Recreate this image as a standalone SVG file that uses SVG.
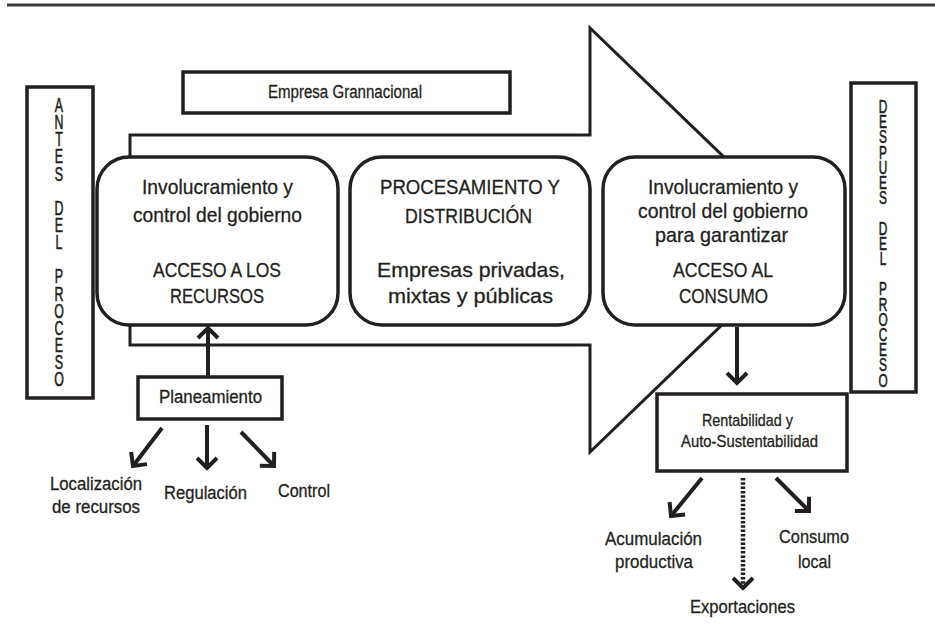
<svg xmlns="http://www.w3.org/2000/svg" width="935" height="636" viewBox="0 0 935 636">
<defs>
<style>
.bx{fill:#fff;stroke:#231f20;stroke-width:3.5}
.rb{fill:#fff;stroke:#231f20;stroke-width:3.5}
.t{font-family:"Liberation Sans",Arial,sans-serif;fill:#231f20;stroke:#231f20;stroke-width:0.3;text-anchor:middle}
.v{font-family:"Liberation Sans",Arial,sans-serif;fill:#231f20;stroke:#231f20;stroke-width:0.6;text-anchor:middle;font-size:20px}
.v2{font-family:"Liberation Sans",Arial,sans-serif;fill:#231f20;stroke:#231f20;stroke-width:0.6;text-anchor:middle;font-size:18.5px}
.c{fill:none;stroke:#231f20;stroke-width:4;marker-end:url(#ah)}
.d{fill:none;stroke:#231f20;stroke-width:4.5;stroke-dasharray:2.5 1.8;marker-end:url(#ah)}
</style>
<marker id="ah" markerUnits="userSpaceOnUse" markerWidth="30" markerHeight="30" viewBox="-15 -15 30 30" refX="0" refY="0" orient="auto" overflow="visible">
<path d="M-10,-10 L0,0 L-10,10" fill="none" stroke="#231f20" stroke-width="4" stroke-linejoin="miter"/>
</marker>
</defs>
<rect width="935" height="636" fill="#fff"/>
<line x1="7" y1="5" x2="935" y2="5" stroke="#3c3c3c" stroke-width="3"/>

<g id="big-arrow">
<polygon points="130,135 590,135 590,28 810,240 590,452 590,345 130,345" fill="#fff" stroke="#231f20" stroke-width="3"/>
</g>

<g id="empresa">
<rect class="bx" x="183" y="72" width="327" height="41"/>
<text class="t" x="345" y="98" font-size="18" textLength="154" lengthAdjust="spacingAndGlyphs">Empresa Grannacional</text>
</g>

<g id="antes">
<rect class="bx" x="27" y="87" width="66" height="311"/>
<g transform="translate(59,0) scale(0.62,1)">
<text class="v" x="0" y="112">A</text>
<text class="v" x="0" y="129.15">N</text>
<text class="v" x="0" y="146.3">T</text>
<text class="v" x="0" y="163.45">E</text>
<text class="v" x="0" y="180.6">S</text>
<text class="v" x="0" y="214.9">D</text>
<text class="v" x="0" y="232.05">E</text>
<text class="v" x="0" y="249.2">L</text>
<text class="v" x="0" y="283.5">P</text>
<text class="v" x="0" y="300.65">R</text>
<text class="v" x="0" y="317.8">O</text>
<text class="v" x="0" y="334.95">C</text>
<text class="v" x="0" y="352.1">E</text>
<text class="v" x="0" y="369.25">S</text>
<text class="v" x="0" y="386.4">O</text>
</g>
</g>

<g id="despues">
<rect class="bx" x="851" y="83" width="65" height="309"/>
<g transform="translate(883,0) scale(0.64,1)">
<text class="v2" x="0" y="113">D</text>
<text class="v2" x="0" y="128.2">E</text>
<text class="v2" x="0" y="143.4">S</text>
<text class="v2" x="0" y="158.6">P</text>
<text class="v2" x="0" y="173.8">U</text>
<text class="v2" x="0" y="189">E</text>
<text class="v2" x="0" y="204.2">S</text>
<text class="v2" x="0" y="234.6">D</text>
<text class="v2" x="0" y="249.8">E</text>
<text class="v2" x="0" y="265">L</text>
<text class="v2" x="0" y="295.4">P</text>
<text class="v2" x="0" y="310.6">R</text>
<text class="v2" x="0" y="325.8">O</text>
<text class="v2" x="0" y="341">C</text>
<text class="v2" x="0" y="356.2">E</text>
<text class="v2" x="0" y="371.4">S</text>
<text class="v2" x="0" y="386.6">O</text>
</g>
</g>

<g id="acceso-recursos">
<rect class="rb" x="97" y="157" width="241" height="168" rx="32" ry="32"/>
<text class="t" x="217.5" y="194" font-size="21" textLength="151" lengthAdjust="spacingAndGlyphs">Involucramiento y</text>
<text class="t" x="217.5" y="222" font-size="21" textLength="169" lengthAdjust="spacingAndGlyphs">control del gobierno</text>
<text class="t" x="217" y="277" font-size="21" textLength="128" lengthAdjust="spacingAndGlyphs">ACCESO A LOS</text>
<text class="t" x="217" y="303" font-size="21" textLength="94" lengthAdjust="spacingAndGlyphs">RECURSOS</text>
</g>

<g id="procesamiento">
<rect class="rb" x="350" y="157" width="240" height="168" rx="32" ry="32"/>
<text class="t" x="470" y="194" font-size="20" textLength="180" lengthAdjust="spacingAndGlyphs">PROCESAMIENTO Y</text>
<text class="t" x="468.5" y="223" font-size="20" textLength="127" lengthAdjust="spacingAndGlyphs">DISTRIBUCIÓN</text>
<text class="t" x="471" y="277" font-size="21" textLength="188" lengthAdjust="spacingAndGlyphs">Empresas privadas,</text>
<text class="t" x="470.5" y="303" font-size="21" textLength="165" lengthAdjust="spacingAndGlyphs">mixtas y públicas</text>
</g>

<g id="acceso-consumo">
<rect class="rb" x="603" y="157" width="242" height="168" rx="32" ry="32"/>
<text class="t" x="723" y="194" font-size="21" textLength="150" lengthAdjust="spacingAndGlyphs">Involucramiento y</text>
<text class="t" x="723" y="218" font-size="21" textLength="170" lengthAdjust="spacingAndGlyphs">control del gobierno</text>
<text class="t" x="721.5" y="242" font-size="21" textLength="133" lengthAdjust="spacingAndGlyphs">para garantizar</text>
<text class="t" x="723" y="277" font-size="21" textLength="100" lengthAdjust="spacingAndGlyphs">ACCESO AL</text>
<text class="t" x="723.5" y="303" font-size="21" textLength="89" lengthAdjust="spacingAndGlyphs">CONSUMO</text>
</g>

<g id="planeamiento">
<rect class="bx" x="138" y="377" width="144" height="42"/>
<text class="t" x="210.5" y="403" font-size="18" textLength="103" lengthAdjust="spacingAndGlyphs">Planeamiento</text>
</g>

<g id="rentabilidad">
<rect class="bx" x="657" y="394" width="190" height="77"/>
<text class="t" x="747.5" y="426" font-size="17" textLength="91" lengthAdjust="spacingAndGlyphs">Rentabilidad y</text>
<text class="t" x="749.5" y="447" font-size="17" textLength="137" lengthAdjust="spacingAndGlyphs">Auto-Sustentabilidad</text>
</g>

<g id="localizacion">
<text class="t" x="96" y="490" font-size="18" textLength="92" lengthAdjust="spacingAndGlyphs">Localización</text>
<text class="t" x="96" y="513" font-size="18" textLength="88" lengthAdjust="spacingAndGlyphs">de recursos</text>
</g>
<g id="regulacion">
<text class="t" x="205.5" y="499" font-size="18" textLength="83" lengthAdjust="spacingAndGlyphs">Regulación</text>
</g>
<g id="control">
<text class="t" x="304" y="497" font-size="18" textLength="52" lengthAdjust="spacingAndGlyphs">Control</text>
</g>
<g id="acumulacion">
<text class="t" x="653.5" y="545" font-size="19" textLength="97" lengthAdjust="spacingAndGlyphs">Acumulación</text>
<text class="t" x="654" y="568" font-size="19" textLength="78" lengthAdjust="spacingAndGlyphs">productiva</text>
</g>
<g id="consumo-local">
<text class="t" x="814" y="543" font-size="19" textLength="70" lengthAdjust="spacingAndGlyphs">Consumo</text>
<text class="t" x="814.5" y="568" font-size="19" textLength="33" lengthAdjust="spacingAndGlyphs">local</text>
</g>
<g id="exportaciones">
<text class="t" x="742.5" y="613" font-size="19" textLength="105" lengthAdjust="spacingAndGlyphs">Exportaciones</text>
</g>

<g id="connectors">
<line class="c" x1="208" y1="377" x2="208" y2="328"/>
<line class="c" x1="162" y1="428" x2="133" y2="466"/>
<line class="c" x1="207" y1="425" x2="207" y2="468"/>
<line class="c" x1="241" y1="432" x2="274" y2="466"/>
<line class="c" x1="737" y1="327" x2="737" y2="383"/>
<line class="c" x1="702" y1="478" x2="671" y2="516"/>
<line class="d" x1="743" y1="478" x2="743" y2="588"/>
<line class="c" x1="776" y1="478" x2="809" y2="511"/>
</g>
</svg>
